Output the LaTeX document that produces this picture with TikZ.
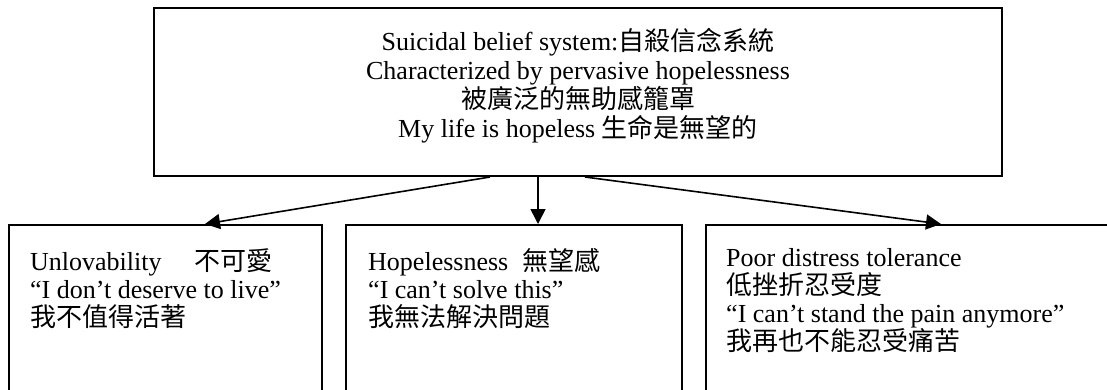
\documentclass[tikz,border=0pt]{standalone}
\usepackage{fontspec}
\setmainfont{Liberation Serif}
\newfontfamily\cjk{Noto Sans CJK TC}
\usetikzlibrary{arrows.meta}
\begin{document}
\begin{tikzpicture}[x=1pt,y=-1pt,
  boxstyle/.style={draw=black,line width=2pt,rectangle,inner sep=0pt},
  txt/.style={font=\fontsize{26}{28}\selectfont,inner sep=0pt},
  conn/.style={line width=1.6pt,-{Triangle[length=15pt,width=15pt]}}]
\useasboundingbox (0,0) rectangle (1107,389);
\clip (0,0) rectangle (1107,389);
% top box
\node[boxstyle,minimum width=848pt,minimum height=168pt] (top) at (578,92) {};
\node[txt,align=center,anchor=north] (toptext) at (578,28) {Suicidal belief system:{\cjk 自殺信念系統}\\[1pt]
Characterized by pervasive hopelessness\\[1pt]
{\cjk 被廣泛的無助感籠罩}\\[1pt]
My life is hopeless {\cjk 生命是無望的}};
% bottom boxes
\node[boxstyle,minimum width=313pt,minimum height=200pt] (b1) at (165.5,325) {};
\node[boxstyle,minimum width=336pt,minimum height=200pt] (b2) at (514,325) {};
\node[boxstyle,minimum width=414pt,minimum height=200pt] (b3) at (913,325) {};
\node[txt,align=left,anchor=north west] (t1) at (30,248) {Unlovability\hspace{33pt}{\cjk 不可愛}\\
“I don’t deserve to live”\\
{\cjk 我不值得活著}};
\node[txt,align=left,anchor=north west] (t2) at (368,248) {Hopelessness\hspace{14pt}{\cjk 無望感}\\
“I can’t solve this”\\
{\cjk 我無法解決問題}};
\node[txt,align=left,anchor=north west] (t3) at (726,248) {Poor distress tolerance\\
{\cjk 低挫折忍受度}\\
“I can’t stand the pain anymore”\\
{\cjk 我再也不能忍受痛苦}};
% connectors
\coordinate (s1) at ([xshift=-88pt]top.south);
\coordinate (s2) at ([xshift=-40pt]top.south);
\coordinate (s3) at ([xshift=7pt]top.south);
\draw[conn] (s1) -- ([xshift=39.5pt]b1.north);
\draw[conn] (s2) -- ([xshift=24pt]b2.north);
\draw[conn] (s3) -- ([xshift=28pt]b3.north);
\end{tikzpicture}
\end{document}
